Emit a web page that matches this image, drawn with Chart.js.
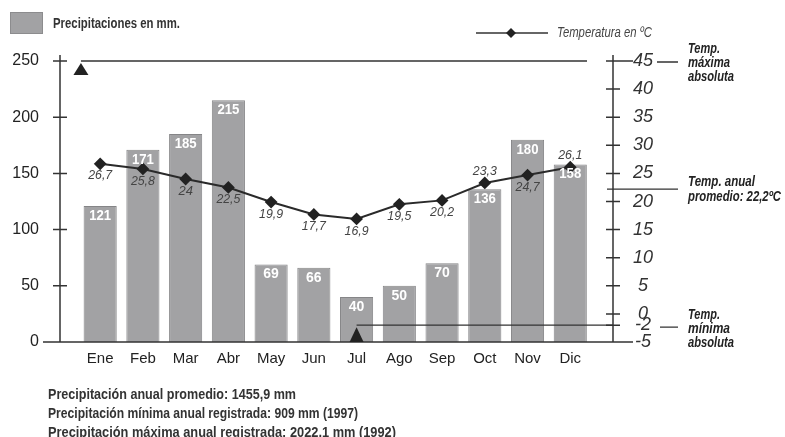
<!DOCTYPE html>
<html>
<head>
<meta charset="utf-8">
<script src="https://cdn.jsdelivr.net/npm/chart.js@4.4.0/dist/chart.umd.min.js"></script>
<style>
  body { margin: 0; background: #fff; }
  #wrap { position: relative; width: 785px; height: 437px; }
  #wrap canvas { position: absolute; left: 0; top: 0; }
  .txt { position: absolute; font-family: "Liberation Sans", sans-serif; color: #333; white-space: nowrap; transform-origin: 0 50%; }
  .b { font-weight: bold; }
  #legBox { position: absolute; left: 10px; top: 12px; width: 31px; height: 20px; background: #a2a2a4; border: 1px solid #8c8c8e; }
  #legBar { left: 53px; top: 15px; font-size: 14px; line-height: 17px; }
  #legLine { position: absolute; left: 476px; top: 27px; }
  #legTemp { left: 557px; top: 24px; font-size: 14px; line-height: 16px; font-style: italic; color: #444; }
  .note { left: 48px; font-size: 14px; line-height: 18px; }
</style>
</head>
<body>
<div id="wrap">
  <canvas id="myChart" width="785" height="437"></canvas>
  <div id="legBox"></div>
  <div id="legBar" class="txt b" data-w="127">Precipitaciones en mm.</div>
  <svg id="legLine" width="72" height="12">
    <line x1="0" y1="6" x2="72" y2="6" stroke="#333" stroke-width="1.5"/>
    <polygon points="35,1 40,6 35,11 30,6" fill="#222"/>
  </svg>
  <div id="legTemp" class="txt" data-w="95">Temperatura en ºC</div>
  <div class="txt b note" style="top:385px" data-w="248">Precipitación anual promedio: 1455,9 mm</div>
  <div class="txt b note" style="top:404px" data-w="310">Precipitación mínima anual registrada: 909 mm (1997)</div>
  <div class="txt b note" style="top:423px" data-w="348">Precipitación máxima anual registrada: 2022,1 mm (1992)</div>
</div>
<script>
const months = ['Ene', 'Feb', 'Mar', 'Abr', 'May', 'Jun', 'Jul', 'Ago', 'Sep', 'Oct', 'Nov', 'Dic'];
const precipitation = [121, 171, 185, 215, 69, 66, 40, 50, 70, 136, 180, 158];
const temperature = [26.7, 25.8, 24, 22.5, 19.9, 17.7, 16.9, 19.5, 20.2, 23.3, 24.7, 26.1];
const tempLabelAbove = [false, false, false, false, false, false, false, false, false, true, false, true];
const precipTicks = [0, 50, 100, 150, 200, 250];
const tempTicks = [45, 40, 35, 30, 25, 20, 15, 10, 5, 0, -2, -5];
const tempMaxAbs = 45;
const tempMinAbs = -2;
const tempAvg = 22.2;
const maxAbsMark = -0.45;   // where the max triangle sits (x units)
const minAbsMonth = 6;      // Jul

const comma = v => String(v).replace('.', ',');

// the original uses a condensed face; squeeze the html texts to their width
document.querySelectorAll('[data-w]').forEach(el => {
  const w = el.getBoundingClientRect().width;
  el.style.transform = 'scaleX(' + (+el.dataset.w / w) + ')';
});

// axes, ticks, reference lines, triangles and value labels
const decor = {
  id: 'decor',
  afterDraw(chart) {
    const ctx = chart.ctx;
    const ca = chart.chartArea;
    const x = chart.scales.x, y = chart.scales.y, y1 = chart.scales.y1;
    ctx.save();
    ctx.strokeStyle = '#333';
    ctx.lineWidth = 1.5;
    ctx.beginPath();
    ctx.moveTo(ca.left, ca.top - 6); ctx.lineTo(ca.left, ca.bottom);
    ctx.moveTo(ca.right, ca.top - 6); ctx.lineTo(ca.right, ca.bottom);
    ctx.moveTo(ca.left - 17, ca.bottom); ctx.lineTo(ca.right + 20, ca.bottom);
    precipTicks.forEach(v => {
      const py = y.getPixelForValue(v);
      ctx.moveTo(ca.left - 7, py); ctx.lineTo(ca.left + 7, py);
    });
    tempTicks.forEach(v => {
      const py = y1.getPixelForValue(v);
      ctx.moveTo(ca.right - 7, py); ctx.lineTo(ca.right + (v === tempMaxAbs ? 20 : 7), py);
    });
    ctx.stroke();

    // reference lines
    ctx.lineWidth = 1.3;
    ctx.beginPath();
    const yMax = y1.getPixelForValue(tempMaxAbs);
    ctx.moveTo(x.getPixelForValue(maxAbsMark), yMax); ctx.lineTo(ca.right - 26, yMax);
    ctx.moveTo(ca.right + 44, yMax + 1); ctx.lineTo(ca.right + 65, yMax + 1);
    const yMin = y1.getPixelForValue(tempMinAbs);
    ctx.moveTo(x.getPixelForValue(minAbsMonth), yMin); ctx.lineTo(ca.right, yMin);
    ctx.moveTo(ca.right + 47, yMin + 2); ctx.lineTo(ca.right + 65, yMin + 2);
    const yAvg = y1.getPixelForValue(tempAvg);
    ctx.moveTo(ca.right - 6, yAvg); ctx.lineTo(ca.right + 65, yAvg);
    ctx.stroke();

    // triangles
    ctx.fillStyle = '#222';
    const tri = (cx, top, bottom, half) => {
      ctx.beginPath();
      ctx.moveTo(cx, top); ctx.lineTo(cx + half, bottom); ctx.lineTo(cx - half, bottom);
      ctx.closePath(); ctx.fill();
    };
    tri(x.getPixelForValue(maxAbsMark), yMax + 2, yMax + 14, 7.5);
    tri(x.getPixelForValue(minAbsMonth), yMin + 2, ca.bottom, 7);

    // bar values
    ctx.fillStyle = '#fff';
    ctx.font = 'bold 14px "Liberation Sans", sans-serif';
    ctx.textAlign = 'center';
    ctx.textBaseline = 'middle';
    chart.getDatasetMeta(0).data.forEach((bar, i) => {
      ctx.fillText(precipitation[i], bar.x, bar.y + 10, 22);
    });

    // temperature values
    ctx.fillStyle = '#444';
    ctx.font = 'italic 13px "Liberation Sans", sans-serif';
    chart.getDatasetMeta(1).data.forEach((pt, i) => {
      ctx.fillText(comma(temperature[i]), pt.x, pt.y + (tempLabelAbove[i] ? -12 : 12), 24);
    });

    // right side notes
    ctx.fillStyle = '#222';
    ctx.font = 'bold italic 14px "Liberation Sans", sans-serif';
    ctx.textAlign = 'left';
    const tx = ca.right + 75;
    ctx.fillText('Temp.', tx, yMax - 12, 32);
    ctx.fillText('máxima', tx, yMax + 2, 42);
    ctx.fillText('absoluta', tx, yMax + 16, 46);
    ctx.fillText('Temp. anual', tx, yAvg - 7, 67);
    ctx.fillText('promedio: 22,2ºC', tx, yAvg + 8, 93);
    ctx.fillText('Temp.', tx, yMin - 10, 32);
    ctx.fillText('mínima', tx, yMin + 4, 42);
    ctx.fillText('absoluta', tx, yMin + 18, 46);
    ctx.restore();
  }
};

const ctx = document.getElementById('myChart').getContext('2d');
new Chart(ctx, {
  type: 'bar',
  data: {
    datasets: [{
      type: 'bar',
      data: precipitation.map((v, i) => ({ x: i, y: v })),
      backgroundColor: '#a2a2a4',
      borderColor: '#858587',
      borderWidth: 1,
      categoryPercentage: 1,
      barPercentage: 0.775,
      yAxisID: 'y',
      order: 2
    }, {
      type: 'line',
      data: temperature.map((v, i) => ({ x: i, y: v })),
      borderColor: '#2a2a2a',
      borderWidth: 2,
      pointStyle: 'rectRot',
      pointRadius: 5,
      pointBackgroundColor: '#222',
      pointBorderColor: '#222',
      yAxisID: 'y1',
      order: 1
    }]
  },
  options: {
    responsive: false,
    animation: false,
    events: [],
    layout: { padding: { top: 61, left: 0, right: 0, bottom: 0 } },
    plugins: { legend: { display: false }, tooltip: { enabled: false } },
    scales: {
      x: {
        type: 'linear',
        offset: false,
        min: -0.94,
        max: 12,
        afterFit: s => { s.height = 95; },
        afterBuildTicks: s => { s.ticks = months.map((m, i) => ({ value: i })); },
        ticks: {
          autoSkip: false,
          maxRotation: 0,
          padding: 8,
          color: '#222',
          font: { family: '"Liberation Sans", sans-serif', size: 15 },
          callback: v => months[v]
        },
        grid: { display: false, drawTicks: false },
        border: { display: false }
      },
      y: {
        position: 'left',
        min: 0,
        max: 250,
        afterFit: s => { s.width = 60; },
        afterBuildTicks: s => { s.ticks = precipTicks.map(v => ({ value: v })); },
        ticks: {
          padding: 21,
          color: '#222',
          font: { family: '"Liberation Sans", sans-serif', size: 16 }
        },
        grid: { display: false, drawTicks: false },
        border: { display: false }
      },
      y1: {
        position: 'right',
        min: -5,
        max: 45,
        afterFit: s => { s.width = 172; },
        afterBuildTicks: s => { s.ticks = tempTicks.map(v => ({ value: v })); },
        ticks: {
          autoSkip: false,
          crossAlign: 'center',
          padding: 20,
          color: '#333',
          font: { family: '"Liberation Sans", sans-serif', size: 18, style: 'italic' }
        },
        grid: { display: false, drawTicks: false },
        border: { display: false }
      }
    }
  },
  plugins: [decor]
});
</script>
</body>
</html>
